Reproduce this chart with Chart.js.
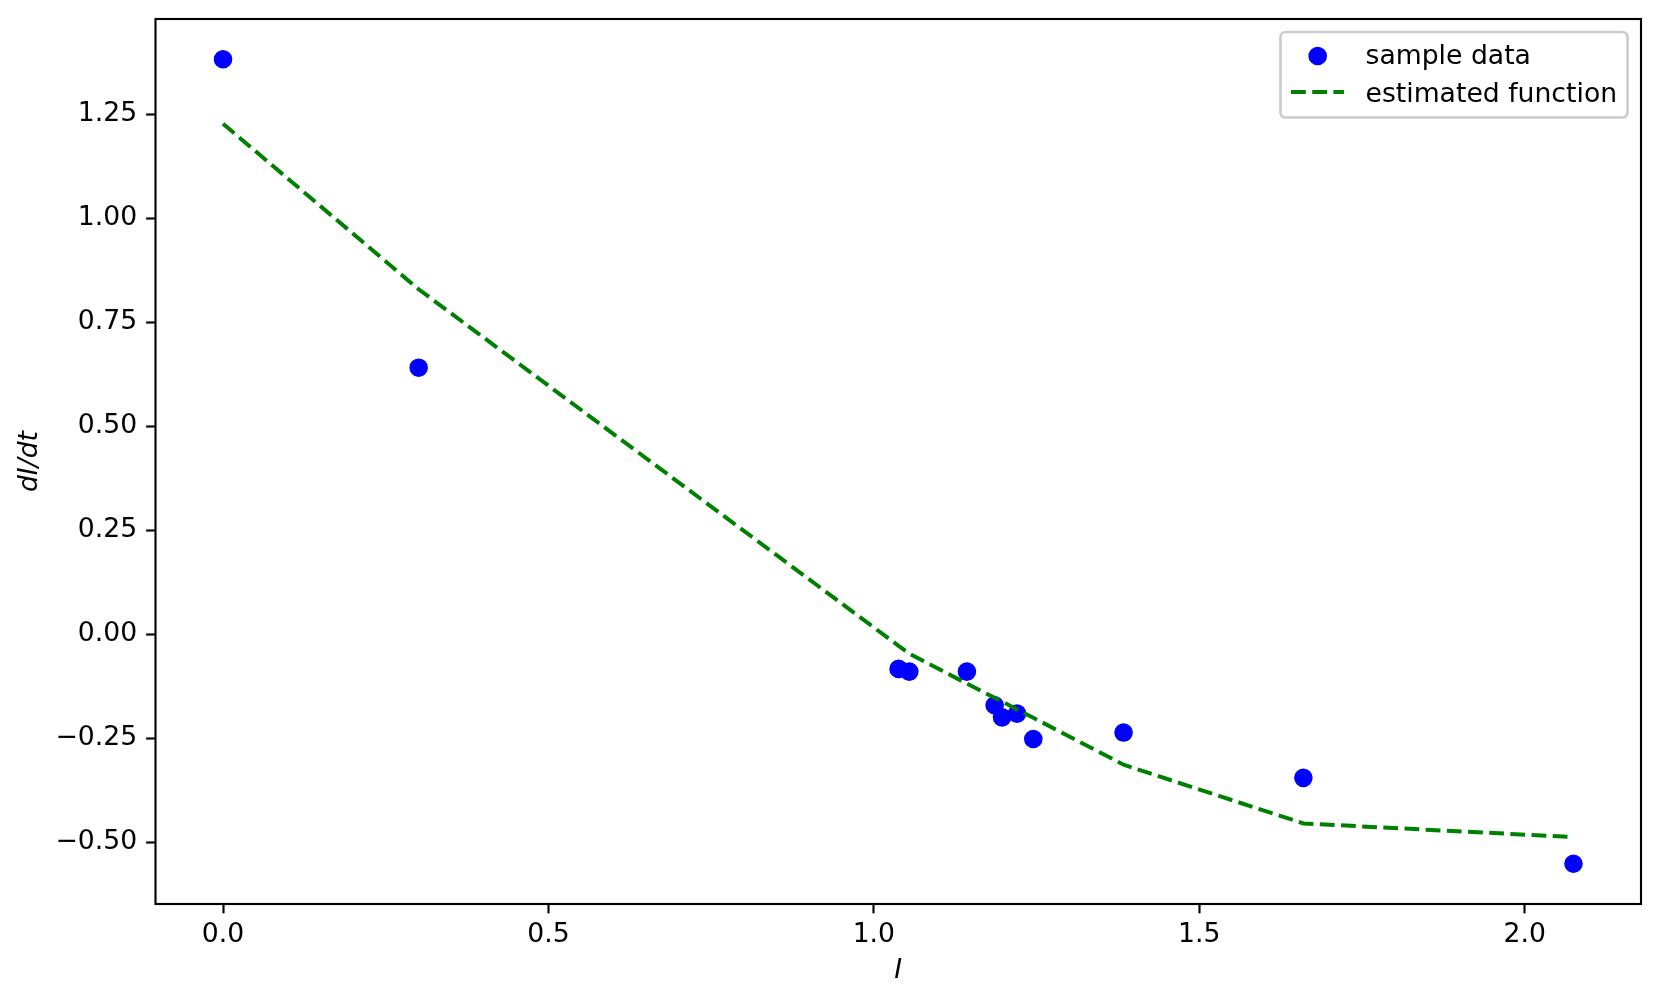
<!DOCTYPE html>
<html>
<head>
<meta charset="utf-8">
<script src="https://cdn.jsdelivr.net/npm/chart.js@4/dist/chart.umd.min.js"></script>
<style>
  html, body { margin: 0; padding: 0; background: #ffffff; }
  #wrap { width: 1660px; height: 1004px; }
</style>
</head>
<body>
<div id="wrap"><canvas id="c" width="1660" height="1004"></canvas></div>
<script>
// ---- data ----
const sampleX = [0.0, 0.3006, 1.038, 1.0545, 1.143, 1.1856, 1.197, 1.220, 1.245, 1.3837, 1.660, 2.075];
const sampleY = [1.383, 0.6415, -0.0826, -0.089, -0.089, -0.170, -0.199, -0.190, -0.251, -0.2356, -0.3445, -0.5510];
const fitX = [0.0, 0.3006, 1.038, 1.0545, 1.143, 1.1856, 1.197, 1.220, 1.245, 1.3837, 1.660, 2.075];
const fitY = [1.228, 0.830, -0.027, -0.046, -0.118, -0.152, -0.161, -0.180, -0.200, -0.313, -0.454, -0.487];
const xTicks = [0.0, 0.5, 1.0, 1.5, 2.0];
const yTicks = [-0.50, -0.25, 0.00, 0.25, 0.50, 0.75, 1.00, 1.25];
const seriesNames = ['sample data', 'estimated function'];
const xTitle = 'I';
const yTitle = 'dI/dt';

// axis limits with 5% margins (matplotlib default)
function lims(arrs) {
  const all = [].concat(...arrs);
  const lo = Math.min(...all), hi = Math.max(...all);
  const m = (hi - lo) * 0.05;
  return [lo - m, hi + m];
}
const [xMin, xMax] = lims([sampleX, fitX]);
const [yMin, yMax] = lims([sampleY, fitY]);

const FONT = 'DejaVu Sans';
const FS = 26.67;
const fmtMinus = s => s.replace('-', '\u2212');

const framePlugin = {
  id: 'frameLegend',
  afterDraw(chart) {
    const ctx = chart.ctx;
    const a = chart.chartArea;
    ctx.save();
    // spines
    ctx.strokeStyle = '#000000';
    ctx.lineWidth = 2.13;
    ctx.setLineDash([]);
    ctx.strokeRect(a.left, a.top, a.right - a.left, a.bottom - a.top);

    // legend box
    const bx = 1280.5, by = 32, bw = 347, bh = 85.5, r = 5.3;
    ctx.globalAlpha = 0.8;
    ctx.fillStyle = '#ffffff';
    ctx.beginPath();
    ctx.roundRect(bx, by, bw, bh, r);
    ctx.fill();
    ctx.globalAlpha = 1;
    ctx.strokeStyle = '#cccccc';
    ctx.lineWidth = 2.67;
    ctx.stroke();

    // handles
    ctx.fillStyle = '#0000ff';
    ctx.beginPath();
    ctx.arc(1317.7, 56, 9.3, 0, Math.PI * 2);
    ctx.fill();
    ctx.strokeStyle = '#008000';
    ctx.lineWidth = 4;
    ctx.lineCap = 'butt';
    ctx.setLineDash([14.8, 6.4]);
    ctx.beginPath();
    ctx.moveTo(1291, 92);
    ctx.lineTo(1344, 92);
    ctx.stroke();
    ctx.setLineDash([]);

    // texts
    ctx.fillStyle = '#000000';
    ctx.font = FS + 'px "' + FONT + '"';
    ctx.textBaseline = 'alphabetic';
    ctx.textAlign = 'left';
    ctx.fillText(seriesNames[0], 1365.5, 63.5);
    ctx.fillText(seriesNames[1], 1365.5, 102);
    ctx.restore();
  }
};

new Chart(document.getElementById('c'), {
  type: 'scatter',
  data: {
    datasets: [
      {
        label: seriesNames[1],
        data: fitX.map((x, i) => ({ x: x, y: fitY[i] })),
        showLine: true,
        borderColor: '#008000',
        borderWidth: 4,
        borderDash: [14.8, 6.4],
        borderCapStyle: 'butt',
        pointRadius: 0,
        pointHoverRadius: 0,
        fill: false,
        tension: 0,
        order: 0
      },
      {
        label: seriesNames[0],
        data: sampleX.map((x, i) => ({ x: x, y: sampleY[i] })),
        showLine: false,
        backgroundColor: '#0000ff',
        borderColor: '#0000ff',
        borderWidth: 1.4,
        pointRadius: 8.6,
        pointHoverRadius: 8.6,
        order: 1
      }
    ]
  },
  options: {
    responsive: false,
    animation: false,
    devicePixelRatio: 1,
    layout: { padding: { left: 0, top: 19, right: 19, bottom: 0 } },
    plugins: {
      legend: { display: false },
      tooltip: { enabled: false },
      title: { display: false }
    },
    scales: {
      x: {
        type: 'linear',
        min: xMin,
        max: xMax,
        afterFit: s => { s.height = 100; s.paddingLeft = 0; s.paddingRight = 0; },
        afterBuildTicks: s => { s.ticks = xTicks.map(v => ({ value: v })); },
        border: { display: false },
        grid: { display: true, drawOnChartArea: false, drawTicks: true, tickLength: 9.33, tickWidth: 2.13, tickColor: '#000000' },
        ticks: {
          color: '#000000',
          font: { family: FONT, size: FS },
          padding: 6,
          maxRotation: 0,
          autoSkip: false,
          callback: v => fmtMinus(Number(v).toFixed(1))
        },
        title: {
          display: true,
          text: xTitle,
          color: '#000000',
          font: { family: FONT, size: FS, style: 'italic' },
          padding: { top: 0, bottom: 17 }
        }
      },
      y: {
        type: 'linear',
        min: yMin,
        max: yMax,
        afterFit: s => { s.width = 155.5; s.paddingTop = 0; s.paddingBottom = 0; },
        afterBuildTicks: s => { s.ticks = yTicks.map(v => ({ value: v })); },
        border: { display: false },
        grid: { display: true, drawOnChartArea: false, drawTicks: true, tickLength: 9.33, tickWidth: 2.13, tickColor: '#000000' },
        ticks: {
          color: '#000000',
          font: { family: FONT, size: FS },
          padding: 9,
          autoSkip: false,
          callback: v => fmtMinus(Number(v).toFixed(2))
        },
        title: {
          display: true,
          text: yTitle,
          color: '#000000',
          font: { family: FONT, size: FS, style: 'italic' },
          padding: { top: 14, bottom: 0 }
        }
      }
    }
  },
  plugins: [framePlugin]
});
</script>
</body>
</html>
